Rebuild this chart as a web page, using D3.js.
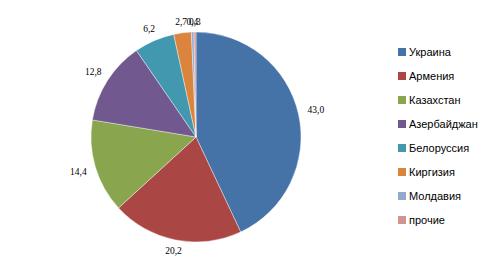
<!DOCTYPE html>
<html>
<head>
<meta charset="utf-8">
<script src="https://cdn.jsdelivr.net/npm/d3@7"></script>
<style>
  body { margin: 0; background: #fff; }
  .label { font-family: "Liberation Serif", serif; font-size: 9.5px; fill: #000; }
  .legend-text { font-family: "Liberation Sans", sans-serif; font-size: 11px; fill: #000; }
</style>
</head>
<body>
<div id="wrapper"></div>
<script>
// data
const countries = ["Украина", "Армения", "Казахстан", "Азербайджан", "Белоруссия", "Киргизия", "Молдавия", "прочие"]
const shares = [43.0, 20.2, 14.4, 12.8, 6.2, 2.7, 0.4, 0.3]
const colors = ["#4572A7", "#AA4643", "#89A54E", "#71588F", "#4198AF", "#DB843D", "#93A9CF", "#D19392"]

const dataset = countries.map((c, i) => ({ name: c, value: shares[i] }))

// dimensions
const width = 500
const height = 272
const center = { x: 196, y: 137 }
const radius = 105

const svg = d3.select("#wrapper").append("svg")
  .attr("width", width)
  .attr("height", height)

const bounds = svg.append("g")
  .attr("transform", `translate(${center.x},${center.y})`)

const color = d3.scaleOrdinal().domain(countries).range(colors)

const pie = d3.pie()
  .value(d => d.value)
  .sort(null)

const arcs = pie(dataset)

const arcGenerator = d3.arc()
  .innerRadius(0)
  .outerRadius(radius)

bounds.selectAll(".slice")
  .data(arcs)
  .enter().append("path")
  .attr("class", "slice")
  .attr("d", arcGenerator)
  .attr("fill", d => color(d.data.name))
  .attr("stroke", "#fff")
  .attr("stroke-width", 0.4)

// value labels (outside end)
const fmt = v => d3.format(".1f")(v).replace(".", ",")
bounds.selectAll(".label")
  .data(arcs)
  .enter().append("text")
  .attr("class", "label")
  .attr("text-anchor", "middle")
  .attr("dominant-baseline", "central")
  .attr("transform", d => {
    const a = (d.startAngle + d.endAngle) / 2
    const dist = radius + 10 + 8 * Math.abs(Math.sin(a))
    return `translate(${dist * Math.sin(a)},${-dist * Math.cos(a)})`
  })
  .text(d => fmt(d.data.value))

// legend
const legend = svg.append("g")
  .attr("transform", "translate(398,52)")

const rows = legend.selectAll(".row")
  .data(countries)
  .enter().append("g")
  .attr("transform", (d, i) => `translate(0,${i * 24})`)

rows.append("rect")
  .attr("x", 0)
  .attr("y", -4)
  .attr("width", 8)
  .attr("height", 8)
  .attr("fill", d => color(d))

rows.append("text")
  .attr("class", "legend-text")
  .attr("x", 11)
  .attr("y", 0)
  .attr("dominant-baseline", "central")
  .text(d => d)
</script>
</body>
</html>
